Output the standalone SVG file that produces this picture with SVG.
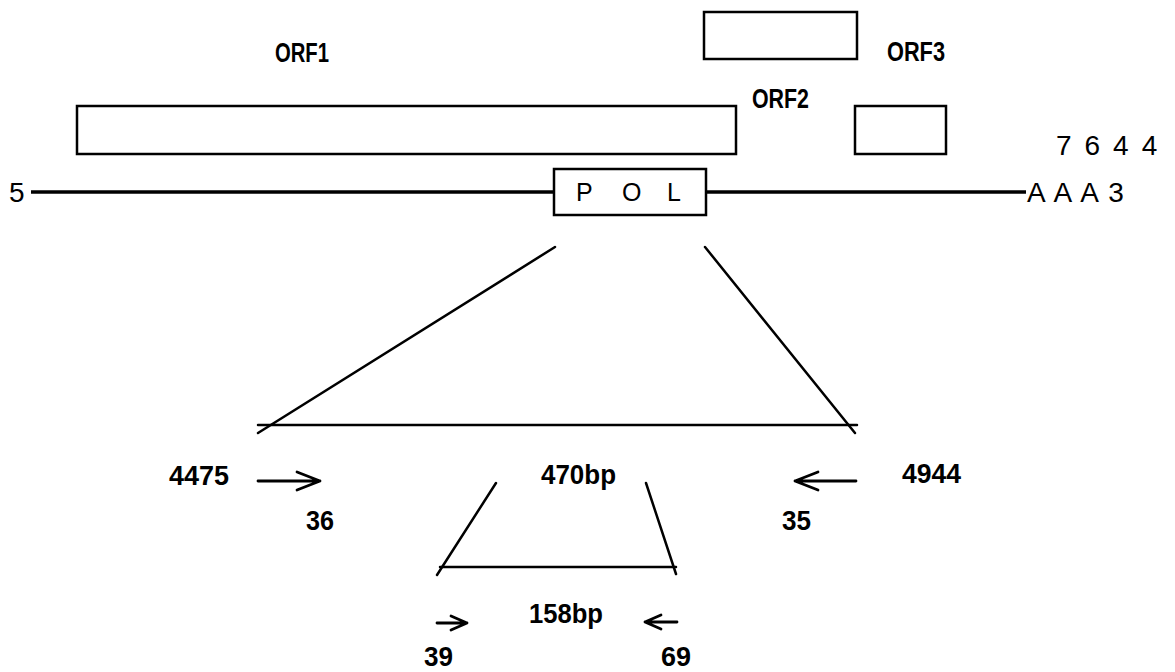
<svg xmlns="http://www.w3.org/2000/svg" width="1175" height="672" viewBox="0 0 1175 672">
<style>
.box{fill:#fff;stroke:#000;stroke-width:2.5}
.ln{stroke:#000;stroke-width:2.5;fill:none;stroke-linecap:round}
.main{stroke:#000;stroke-width:3.5;fill:none}
.arr{stroke:#000;stroke-width:2.8;fill:none;stroke-linecap:round;stroke-linejoin:round}
.nar{font-family:"Liberation Sans",Arial,sans-serif;font-weight:bold;font-size:27px;fill:#000}
.reg{font-family:"Liberation Sans",Arial,sans-serif;font-size:28px;fill:#000}
</style>
<rect width="1175" height="672" fill="#fff"/>
<g id="connectors">
<line class="main" x1="31" y1="192" x2="554" y2="192"/>
<line class="main" x1="706" y1="192" x2="1026" y2="192"/>
<line class="ln" x1="555" y1="247" x2="258" y2="433"/>
<line class="ln" x1="705" y1="247" x2="855" y2="433"/>
<line class="ln" x1="258" y1="425" x2="857" y2="425"/>
<line class="ln" x1="496" y1="483" x2="437" y2="575"/>
<line class="ln" x1="646" y1="483" x2="676" y2="574"/>
<line class="ln" x1="440" y1="567" x2="676" y2="567"/>
<path class="arr" d="M258 481 H320 M297 472 L320 481 L297 490"/>
<path class="arr" d="M856 481 H795 M818 472 L795 481 L818 490"/>
<path class="arr" d="M437 623 H467 M451 616 L467 623 L451 630"/>
<path class="arr" d="M677 622 H645 M661 615 L645 622 L661 629"/>
</g>
<g id="orf3"><rect class="box" x="704" y="12" width="153" height="47"/></g>
<g id="orf1"><rect class="box" x="77" y="106" width="659" height="48"/></g>
<g id="orf2"><rect class="box" x="855" y="106" width="91" height="48"/></g>
<g id="pol"><rect class="box" x="554" y="169" width="152" height="46"/>
<text class="reg" x="576 598 622 648 667" y="201" style="font-size:25px">P O L</text></g>
<g id="labels">
<text class="nar" x="275" y="62" textLength="54" lengthAdjust="spacingAndGlyphs">ORF1</text>
<text class="nar" x="887" y="61" textLength="58" lengthAdjust="spacingAndGlyphs">ORF3</text>
<text class="nar" x="752" y="108" textLength="57" lengthAdjust="spacingAndGlyphs">ORF2</text>
<text class="reg" x="1056" y="155" letter-spacing="2.6">7 6 4 4</text>
<text class="reg" x="9" y="202">5</text>
<text class="reg" x="1027" y="202" letter-spacing="1.6">A A A 3</text>
<text class="nar" x="169" y="485" textLength="60" lengthAdjust="spacingAndGlyphs">4475</text>
<text class="nar" x="541" y="484" textLength="75" lengthAdjust="spacingAndGlyphs">470bp</text>
<text class="nar" x="902" y="483" textLength="59" lengthAdjust="spacingAndGlyphs">4944</text>
<text class="nar" x="306" y="530" textLength="28" lengthAdjust="spacingAndGlyphs">36</text>
<text class="nar" x="782" y="530" textLength="29" lengthAdjust="spacingAndGlyphs">35</text>
<text class="nar" x="529" y="623" textLength="74" lengthAdjust="spacingAndGlyphs">158bp</text>
<text class="nar" x="424" y="666" textLength="29" lengthAdjust="spacingAndGlyphs">39</text>
<text class="nar" x="661" y="666" textLength="30" lengthAdjust="spacingAndGlyphs">69</text>
</g>
</svg>
